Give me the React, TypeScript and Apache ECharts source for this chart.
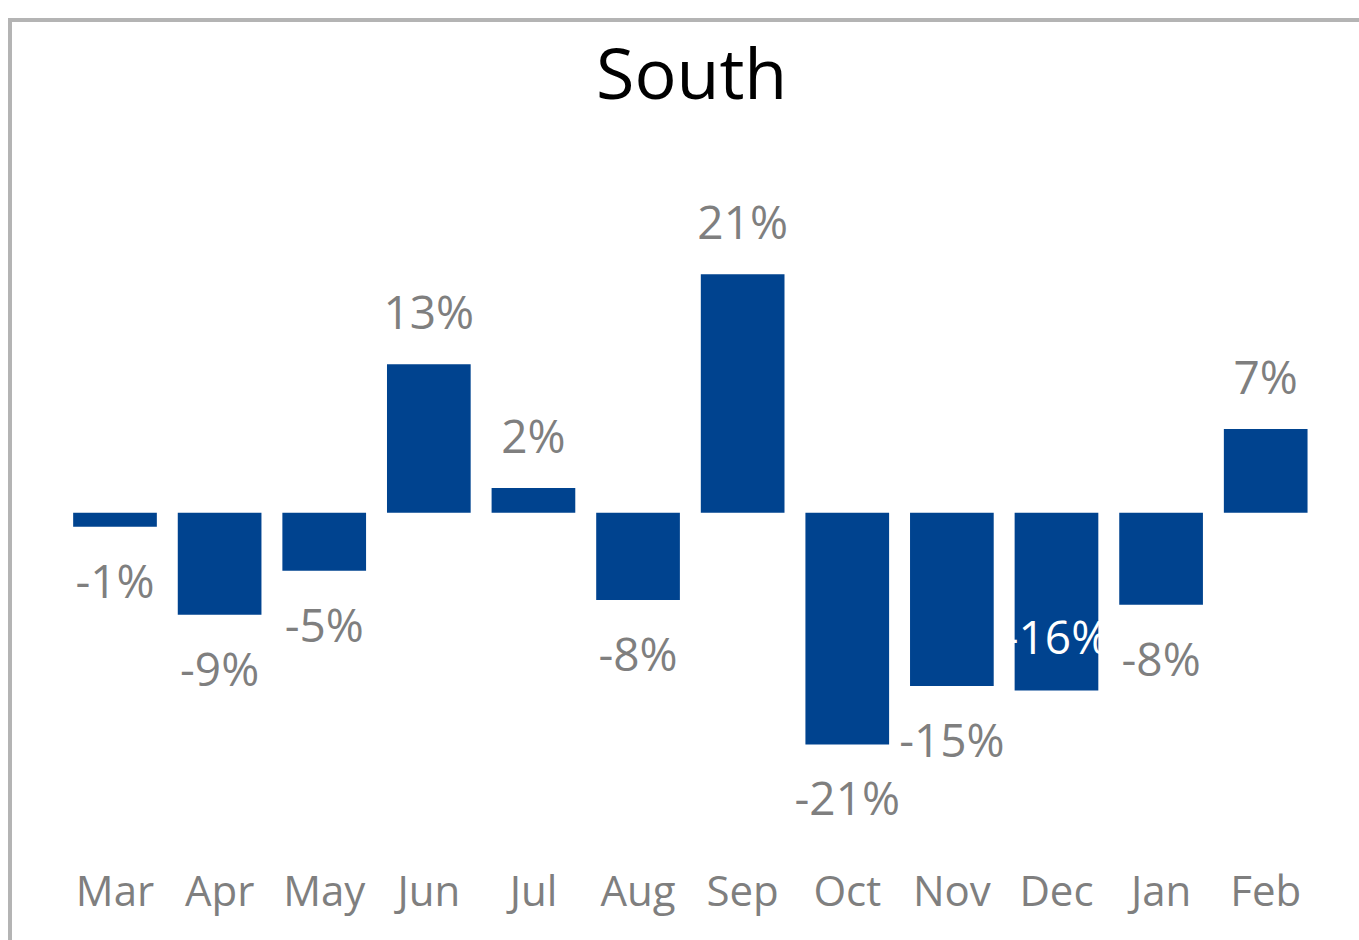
import React, { useEffect, useRef } from "react";
import * as echarts from "echarts";

const categories = ["Mar", "Apr", "May", "Jun", "Jul", "Aug", "Sep", "Oct", "Nov", "Dec", "Jan", "Feb"];
const values = [-1.24, -9.07, -5.16, 13.2, 2.2, -7.76, 21.2, -20.6, -15.4, -15.8, -8.18, 7.44];
const insideLabelIndex = [9];
const titleText = "South";

const FONT = "'Open Sans', 'Noto Sans', sans-serif";
const BAR = "#00438F";
const GRAY = "#7F7F7F";

export default function App() {
  const ref = useRef<HTMLDivElement>(null);
  useEffect(() => {
    if (!ref.current) return;
    const chart = echarts.init(ref.current, null, { renderer: "svg" });
    const data = values.map((v, i) => {
      const inside = insideLabelIndex.includes(i);
      return {
        value: v,
        label: inside
          ? { position: "insideBottom", distance: 31, color: "#FFFFFF" }
          : { position: v >= 0 ? "top" : "bottom", distance: 30, color: GRAY },
      };
    });
    chart.setOption({
      animation: false,
      backgroundColor: "#FFFFFF",
      title: {
        text: titleText,
        left: 591,
        top: 32,
        textStyle: { fontFamily: FONT, fontSize: 70, fontWeight: "normal", color: "#000000" },
      },
      graphic: [
        {
          type: "rect",
          shape: { x: 10, y: 20, width: 1400, height: 1000 },
          style: { fill: "none", stroke: "#B4B4B4", lineWidth: 4 },
          silent: true,
        },
      ],
      grid: { left: 62.7, right: 41, top: 175.2, bottom: 89.8 },
      xAxis: {
        type: "category",
        data: categories,
        axisLine: { show: false },
        axisTick: { show: false },
        axisLabel: { color: GRAY, fontFamily: FONT, fontSize: 42, margin: 18, interval: 0 },
      },
      yAxis: {
        type: "value",
        min: -30,
        max: 30,
        show: false,
        splitLine: { show: false },
      },
      series: [
        {
          type: "bar",
          data,
          barCategoryGap: "20%",
          itemStyle: { color: BAR },
          label: {
            show: true,
            fontFamily: FONT,
            fontSize: 46,
            formatter: (p: any) => Math.round(p.value) + "%",
          },
        },
      ],
    });
    return () => chart.dispose();
  }, []);
  return <div ref={ref} style={{ position: "fixed", left: 0, top: 0, width: 1359, height: 940 }} />;
}
